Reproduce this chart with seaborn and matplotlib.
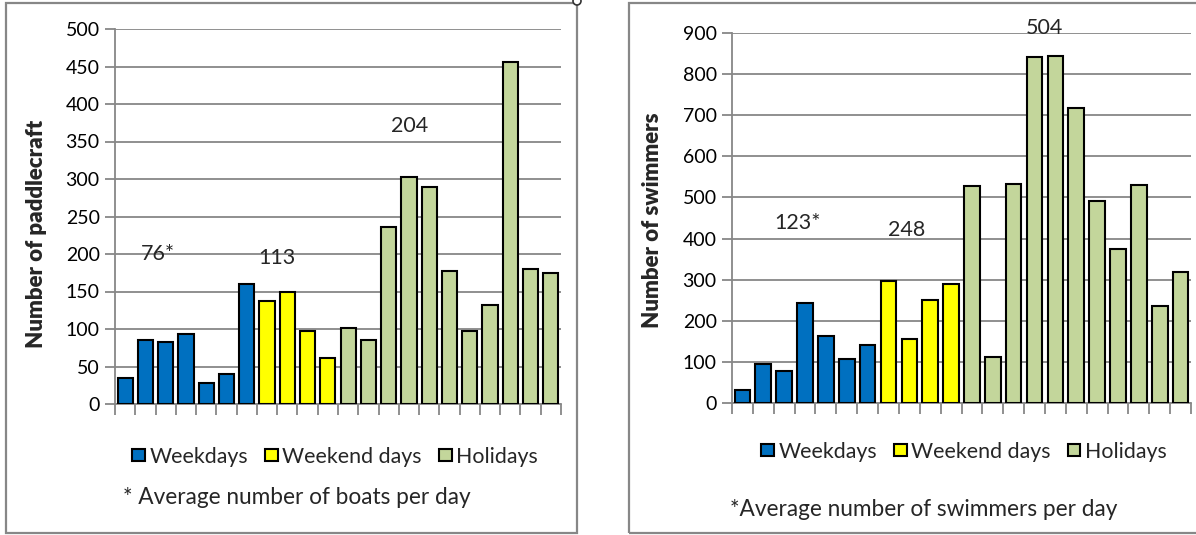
import numpy as np
import pandas as pd
import seaborn as sns
import matplotlib.pyplot as plt
from matplotlib.patches import Patch, Rectangle, Ellipse

# Daily counts, grouped by day type
boats_weekdays = [35, 85, 83, 93, 28, 40, 160]
boats_weekend = [138, 150, 97, 61]
boats_holidays = [102, 86, 236, 303, 290, 178, 97, 132, 456, 180, 175]

swim_weekdays = [32, 96, 77, 243, 162, 108, 142]
swim_weekend = [297, 155, 250, 290]
swim_holidays = [529, 113, 533, 841, 843, 717, 492, 375, 531, 237, 318]

groups = ["Weekdays", "Weekend days", "Holidays"]
colors = {"Weekdays": "#0070C0", "Weekend days": "#FFFF00", "Holidays": "#C3D69B"}

boats_avg_labels = ["76*", "113", "204"]
swim_avg_labels = ["123*", "248", "504"]

GRID = "#878787"
FONT = ["Lato", "DejaVu Sans"]


def build_frame(wd, we, ho):
    vals = list(wd) + list(we) + list(ho)
    kinds = ["Weekdays"] * len(wd) + ["Weekend days"] * len(we) + ["Holidays"] * len(ho)
    return pd.DataFrame({"day": [str(i) for i in range(len(vals))],
                         "count": vals, "type": kinds})


sns.set_theme(style="white")
plt.rcParams["font.family"] = FONT

fig = plt.figure(figsize=(11.96, 5.35), dpi=100)
W, H = 1196, 535


def px_axes(x0, x1, ytop, ybot):
    return fig.add_axes([x0 / W, (H - ybot) / H, (x1 - x0) / W, (ybot - ytop) / H])


def panel(ax, df, ymax, ystep, ylabel, label_xy, avg_labels, avg_pos,
          legend_xy, note, note_xy):
    order = list(df["day"])
    sns.barplot(data=df, x="day", y="count", hue="type", order=order,
                hue_order=groups, palette=colors, saturation=1, dodge=False,
                width=0.75, edgecolor="black", linewidth=1.5, legend=False,
                ax=ax, zorder=3)
    n = len(order)
    ax.set_xlim(-0.5, n - 0.5)
    ax.set_ylim(0, ymax)
    ax.set_yticks(np.arange(0, ymax + 1, ystep))
    ax.tick_params(axis="y", labelsize=14, length=7, width=1.3, color=GRID,
                   pad=4, left=True, labelcolor="black")
    ax.set_xticks(np.arange(-0.5, n, 1.0))
    ax.set_xticklabels([])
    ax.tick_params(axis="x", length=8, width=1.3, color=GRID, bottom=True)
    ax.grid(axis="y", color=GRID, linewidth=1.3, zorder=0)
    ax.set_axisbelow(True)
    for s in ["top", "right"]:
        ax.spines[s].set_visible(False)
    for s in ["left", "bottom"]:
        ax.spines[s].set_color(GRID)
        ax.spines[s].set_linewidth(1.3)
    ax.set_xlabel("")
    ax.set_ylabel(ylabel, fontsize=16, fontweight="heavy", family=FONT)
    ax.yaxis.set_label_coords(*label_xy)
    for txt, (xi, yv) in zip(avg_labels, avg_pos):
        ax.text(xi, yv, txt, ha="center", va="center", fontsize=15.5,
                family=FONT, clip_on=False)
    handles = [Patch(facecolor=colors[g], edgecolor="black", linewidth=1.5, label=g)
               for g in groups]
    ax.legend(handles=handles, loc="center", bbox_to_anchor=legend_xy, ncol=3,
              frameon=False, handlelength=0.6, handleheight=0.5,
              handletextpad=0.2, columnspacing=0.8, borderpad=0,
              prop={"family": FONT, "size": 15.4})
    fig.text(note_xy[0] / W, 1 - note_xy[1] / H, note, ha="center", va="center",
             fontsize=16.3, family=FONT)


# Chart frames
fig.add_artist(Rectangle((6 / W, (H - 533) / H), 571 / W, 530 / H,
                         transform=fig.transFigure, fill=False,
                         edgecolor=GRID, linewidth=1.6))
fig.add_artist(Rectangle((629 / W, (H - 533) / H), 600 / W, 530 / H,
                         transform=fig.transFigure, fill=False,
                         edgecolor=GRID, linewidth=1.6))
# Small handle where the left frame meets the top edge
fig.add_artist(Ellipse((577 / W, 1 - 1 / H), 8 / W, 8 / H,
                       transform=fig.transFigure, facecolor="white",
                       edgecolor="#333333", linewidth=1.2, zorder=5))

ax1 = px_axes(115, 561, 29, 404)
panel(ax1, build_frame(boats_weekdays, boats_weekend, boats_holidays),
      500, 50, "Number of paddlecraft", (-0.152, 0.453), boats_avg_labels,
      [(1.6, 200), (7.5, 195), (14.05, 370)], (0.493, -0.141),
      "* Average number of boats per day", (297, 497))

ax2 = px_axes(732, 1191, 33, 403)
panel(ax2, build_frame(swim_weekdays, swim_weekend, swim_holidays),
      900, 100, "Number of swimmers", (-0.15, 0.495), swim_avg_labels,
      [(2.66, 438), (7.85, 421), (14.5, 913)], (0.505, -0.132),
      "*Average number of swimmers per day", (924, 510))

fig.savefig("out.png", dpi=100, facecolor="white")
